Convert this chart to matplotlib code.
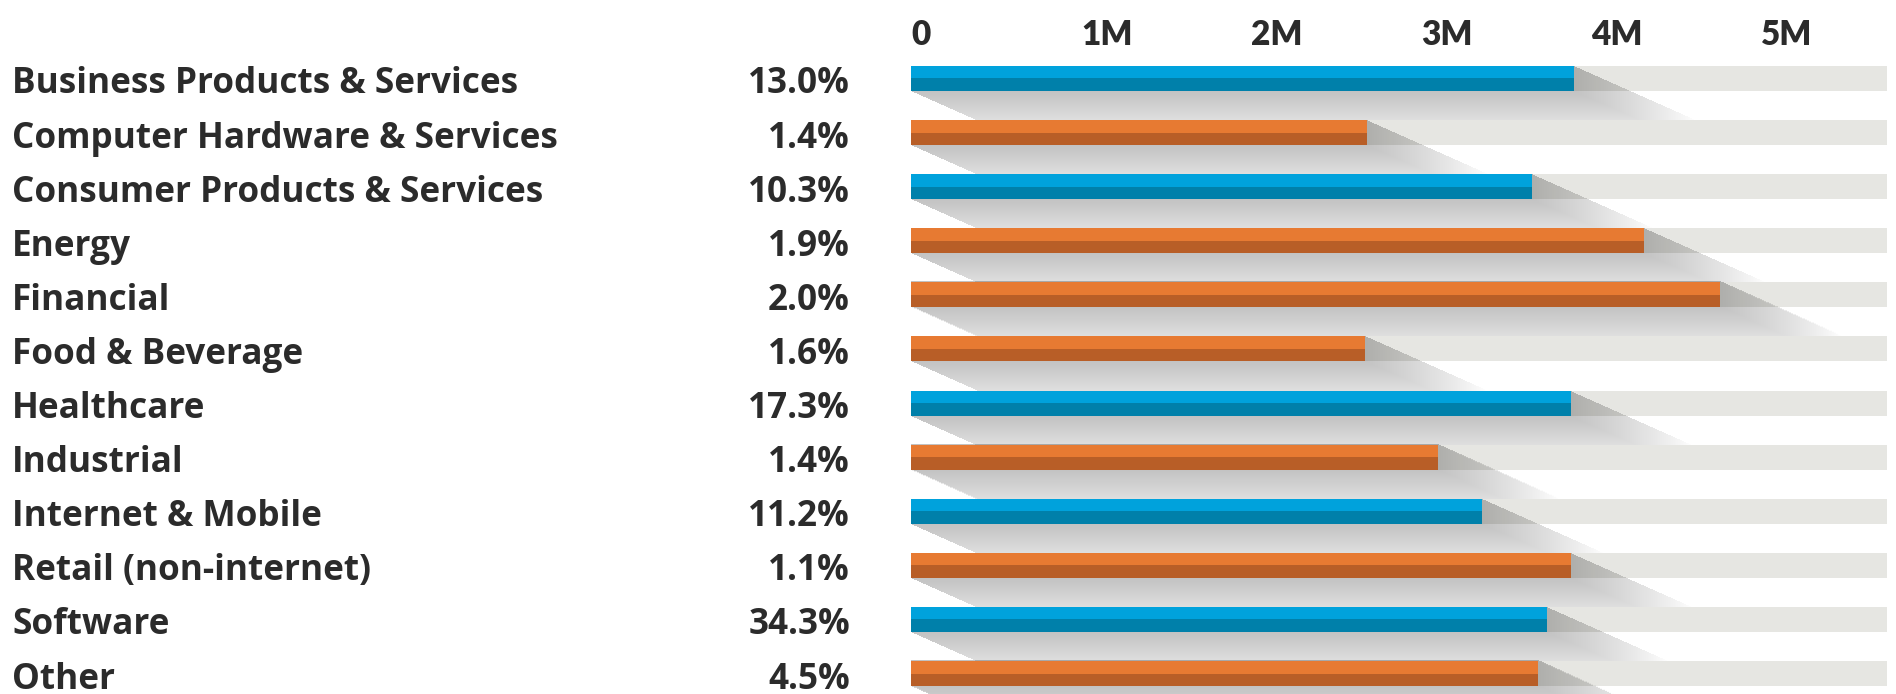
import numpy as np
import matplotlib
matplotlib.use("Agg")
import matplotlib.pyplot as plt
import matplotlib.transforms as mtransforms

# data (values in millions)
sectors = ['Business Products & Services', 'Computer Hardware & Services',
           'Consumer Products & Services', 'Energy', 'Financial', 'Food & Beverage',
           'Healthcare', 'Industrial', 'Internet & Mobile', 'Retail (non-internet)',
           'Software', 'Other']
shares = [13.0, 1.4, 10.3, 1.9, 2.0, 1.6, 17.3, 1.4, 11.2, 1.1, 34.3, 4.5]
values = [3.90, 2.68, 3.65, 4.31, 4.76, 2.67, 3.88, 3.10, 3.36, 3.88, 3.74, 3.69]
tick_vals = [0, 1, 2, 3, 4, 5]
tick_labels = ['0', '1M', '2M', '3M', '4M', '5M']

W, H = 1896, 694
x_left_px, px_per_m, x_right_px = 911, 170.0, 1887
row0_px, row_px = 78.5, 54.1
xmax = (x_right_px - x_left_px) / px_per_m
ylo, yhi = -0.5, 11.38

blue_top, blue_bot = '#00a2dc', '#0080aa'
orange_top, orange_bot = '#e77a32', '#b85e27'
track_col = '#e6e6e2'
text_col = '#2b2b2b'
label_font = ['Open Sans', 'DejaVu Sans']

fig = plt.figure(figsize=(W / 100, H / 100), dpi=100)
fig.patch.set_facecolor('white')
top_px = row0_px + ylo * row_px
bot_px = row0_px + yhi * row_px
ax = fig.add_axes([x_left_px / W, 1 - bot_px / H,
                   (x_right_px - x_left_px) / W, (bot_px - top_px) / H])
ax.set_xlim(0, xmax)
ax.set_ylim(yhi, ylo)
for s in ax.spines.values():
    s.set_visible(False)
ax.set_yticks([])
ax.xaxis.tick_top()
ax.set_xticks(tick_vals)
ax.set_xticklabels(tick_labels, ha='left', fontsize=24, fontweight='heavy',
                   color=text_col, family=['Lato', 'DejaVu Sans'])
ax.tick_params(axis='x', length=0, pad=0.5)

bar_h = 25 / row_px
sh_len = row_px          # shadow length in px (vertical)
sh_dx = 2.25             # horizontal px per vertical px of shadow
bar_px = 25

nx, ny = int(x_right_px - x_left_px), int(bar_px + sh_len)
X = np.broadcast_to(np.arange(nx)[None, :] + 0.5, (ny, nx))
Y = np.broadcast_to(np.arange(ny)[:, None] + 0.5, (ny, nx))

for i, (v, sh) in enumerate(zip(values, shares)):
    top_c, bot_c = (blue_top, blue_bot) if sh >= 10 else (orange_top, orange_bot)
    z = 3 * i
    # grey track behind the bar
    ax.barh(i, xmax - v, left=v, height=bar_h, color=track_col, zorder=z + 1)
    # long diagonal shadow
    V = v * px_per_m
    tmin = np.maximum(np.maximum(Y - bar_px, (X - V) / sh_dx), 0)
    tmax = np.minimum(Y, X / sh_dx)
    inside = (tmin <= tmax) & (tmin <= sh_len)
    alpha = np.where(inside, 0.24 * np.clip(1 - tmin / sh_len, 0, 1) ** 0.8, 0)
    rgba = np.zeros((ny, nx, 4))
    rgba[..., 3] = alpha
    y_top = i - bar_h / 2
    ax.imshow(rgba, extent=(0, xmax, y_top + ny / row_px, y_top), origin='upper',
              aspect='auto', interpolation='bilinear', zorder=z + 2)
    # two-tone bar
    ax.barh(i - bar_h / 4, v, height=bar_h / 2, color=top_c, zorder=z + 3)
    ax.barh(i + bar_h / 4, v, height=bar_h / 2, color=bot_c, zorder=z + 3)

ax.set_xlim(0, xmax)
ax.set_ylim(yhi, ylo)

trans = mtransforms.blended_transform_factory(fig.transFigure, ax.transData)
for i, (name, sh) in enumerate(zip(sectors, shares)):
    ax.text(12 / W, i + 15 / row_px, name, transform=trans, ha='left', va='baseline',
            fontsize=25.3, fontweight='bold', color=text_col,
            family=label_font, clip_on=False)
    ax.text(850 / W, i + 15 / row_px, f'{sh:.1f}%', transform=trans, ha='right',
            va='baseline', fontsize=25.3, fontweight='bold', color=text_col,
            family=label_font, clip_on=False)

fig.savefig('out.png', dpi=100, facecolor='white')
